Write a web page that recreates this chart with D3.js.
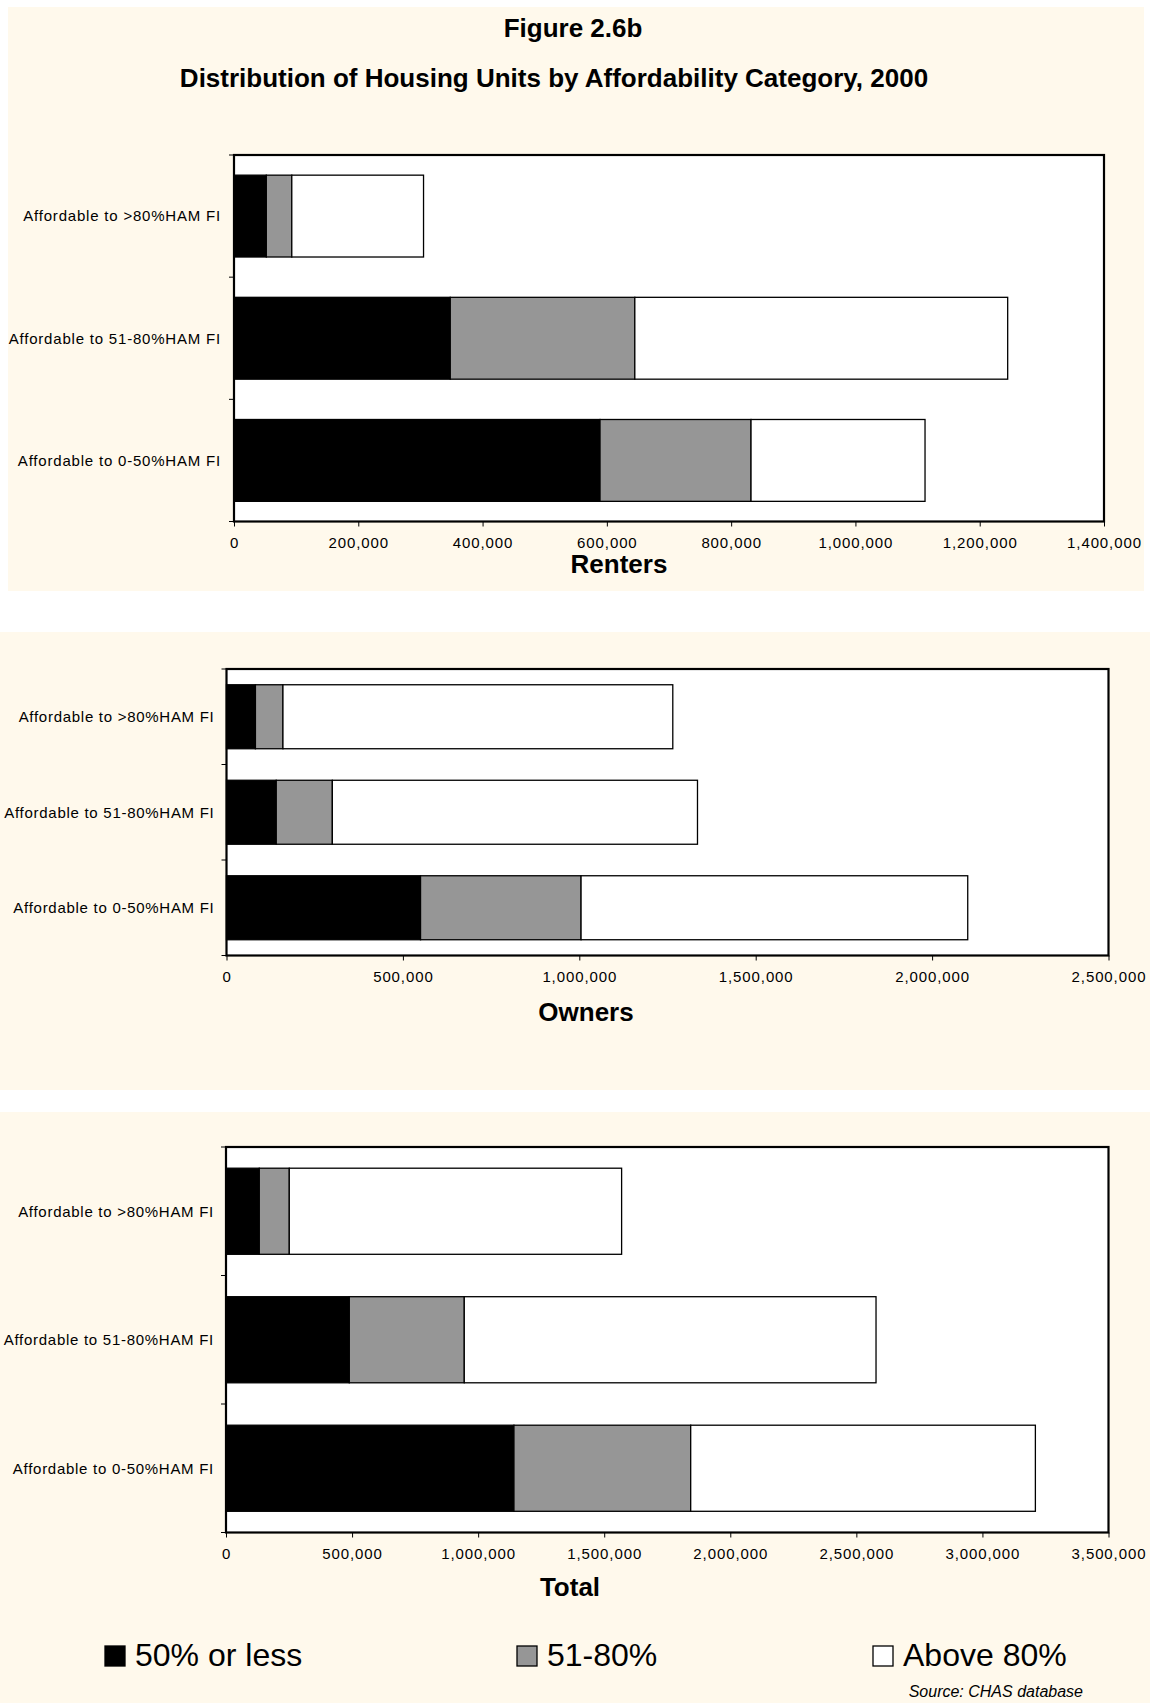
<!DOCTYPE html>
<html>
<head>
<meta charset="utf-8">
<script src="https://cdn.jsdelivr.net/npm/d3@7/dist/d3.min.js"></script>
<style>
  html, body { margin: 0; padding: 0; background: #ffffff; }
  svg { display: block; font-family: "Liberation Sans", Arial, Helvetica, sans-serif; }
</style>
</head>
<body>
<svg id="chart" width="1150" height="1703"></svg>
<script>
// Categories (top to bottom) and series
const categories = ["Affordable to >80%HAM FI", "Affordable to 51-80%HAM FI", "Affordable to 0-50%HAM FI"];
const seriesNames = ["50% or less", "51-80%", "Above 80%"];
const seriesColors = ["#000000", "#969696", "#ffffff"];

// Renters: units by household income group, per affordability category
const renters50 = [52000, 348000, 589000];
const renters5180 = [41000, 297000, 243000];
const rentersAbove80 = [212000, 600000, 280000];

// Owners
const owners50 = [82000, 141000, 550000];
const owners5180 = [78000, 159000, 455000];
const ownersAbove80 = [1105000, 1035000, 1096000];

// Total
const total50 = [132000, 489000, 1142000];
const total5180 = [119000, 456000, 701000];
const totalAbove80 = [1318000, 1633000, 1367000];

// Axis tick values
const rentersTicks = [0, 200000, 400000, 600000, 800000, 1000000, 1200000, 1400000];
const ownersTicks = [0, 500000, 1000000, 1500000, 2000000, 2500000];
const totalTicks = [0, 500000, 1000000, 1500000, 2000000, 2500000, 3000000, 3500000];

const svg = d3.select("#chart");
const cream = "#fff9ec";
const fmt = d3.format(",");

// Panel backgrounds
svg.append("rect").attr("x", 8).attr("y", 7).attr("width", 1136).attr("height", 584).attr("fill", cream);
svg.append("rect").attr("x", 0).attr("y", 632).attr("width", 1150).attr("height", 458).attr("fill", cream);
svg.append("rect").attr("x", 0).attr("y", 1112).attr("width", 1150).attr("height", 591).attr("fill", cream);

// Titles
svg.append("text").attr("x", 573).attr("y", 37).attr("text-anchor", "middle")
  .attr("font-size", 26).attr("font-weight", "bold").text("Figure 2.6b");
svg.append("text").attr("x", 554).attr("y", 87).attr("text-anchor", "middle")
  .attr("font-size", 26).attr("font-weight", "bold")
  .text("Distribution of Housing Units by Affordability Category, 2000");

function drawPanel(p) {
  const rows = categories.map((c, i) => ({
    category: c,
    [seriesNames[0]]: p.s1[i],
    [seriesNames[1]]: p.s2[i],
    [seriesNames[2]]: p.s3[i]
  }));
  const stacked = d3.stack().keys(seriesNames)(rows);

  const x = d3.scaleLinear().domain([0, p.ticks[p.ticks.length - 1]]).range([p.left, p.right]);
  const y = d3.scaleBand().domain(categories).range([p.top, p.bottom])
    .paddingInner(0.33).paddingOuter(0.165);

  const g = svg.append("g");

  // plot area
  g.append("rect").attr("x", p.left).attr("y", p.top)
    .attr("width", p.right - p.left).attr("height", p.bottom - p.top)
    .attr("fill", "#ffffff");

  // bars
  stacked.forEach((layer, si) => {
    g.append("g").selectAll("rect").data(layer).join("rect")
      .attr("x", d => x(d[0]))
      .attr("y", d => y(d.data.category))
      .attr("width", d => x(d[1]) - x(d[0]))
      .attr("height", y.bandwidth())
      .attr("fill", seriesColors[si])
      .attr("stroke", "#000")
      .attr("stroke-width", 1.3);
  });

  // plot frame
  g.append("rect").attr("x", p.left).attr("y", p.top)
    .attr("width", p.right - p.left).attr("height", p.bottom - p.top)
    .attr("fill", "none").attr("stroke", "#000").attr("stroke-width", 2.2);

  // category tick marks on the left axis
  const step = y.step();
  g.append("g").selectAll("line").data(d3.range(categories.length + 1)).join("line")
    .attr("x1", p.left - 5).attr("x2", p.left)
    .attr("y1", i => p.top + i * step).attr("y2", i => p.top + i * step)
    .attr("stroke", "#000").attr("stroke-width", 1);

  // category labels
  g.append("g").selectAll("text").data(categories).join("text")
    .attr("x", p.left - p.labelGap)
    .attr("y", d => y(d) + y.bandwidth() / 2)
    .attr("dy", "0.36em")
    .attr("text-anchor", "end")
    .attr("font-size", 15)
    .attr("letter-spacing", p.labelSpacing)
    .attr("fill", "#000")
    .text(d => d);

  // value axis
  const ax = g.append("g").attr("transform", `translate(0,${p.bottom})`)
    .call(d3.axisBottom(x).tickValues(p.ticks).tickSize(5).tickPadding(11).tickFormat(fmt));
  ax.select(".domain").remove();
  ax.selectAll(".tick line").attr("stroke", "#000");
  ax.selectAll(".tick text")
    .attr("font-family", "\"Liberation Sans\", Arial, sans-serif")
    .attr("font-size", 15).attr("letter-spacing", 0.9).attr("fill", "#000");

  // axis title
  g.append("text").attr("x", p.titleX).attr("y", p.titleY).attr("text-anchor", "middle")
    .attr("font-size", 26).attr("font-weight", "bold").text(p.title);
}

drawPanel({ s1: renters50, s2: renters5180, s3: rentersAbove80, ticks: rentersTicks,
  left: 234, right: 1104, top: 155, bottom: 521.5, labelGap: 13, labelSpacing: 0.8,
  title: "Renters", titleX: 619, titleY: 573 });
drawPanel({ s1: owners50, s2: owners5180, s3: ownersAbove80, ticks: ownersTicks,
  left: 226.5, right: 1108.5, top: 669, bottom: 955.5, labelGap: 12, labelSpacing: 0.72,
  title: "Owners", titleX: 586, titleY: 1021 });
drawPanel({ s1: total50, s2: total5180, s3: totalAbove80, ticks: totalTicks,
  left: 226, right: 1108.5, top: 1147, bottom: 1532.5, labelGap: 12, labelSpacing: 0.72,
  title: "Total", titleX: 570, titleY: 1596 });

// Legend
const legendX = [105, 517, 873];
const legend = svg.append("g").selectAll("g").data(seriesNames).join("g")
  .attr("transform", (d, i) => `translate(${legendX[i]},1646)`);
legend.append("rect").attr("x", 0).attr("y", 0).attr("width", 20).attr("height", 20)
  .attr("fill", (d, i) => seriesColors[i]).attr("stroke", "#000").attr("stroke-width", 1.3);
legend.append("text").attr("x", 30).attr("y", 20).attr("font-size", 32).attr("fill", "#000")
  .text(d => d);

// Source note
svg.append("text").attr("x", 1083).attr("y", 1697).attr("text-anchor", "end")
  .attr("font-size", 16).attr("font-style", "italic").text("Source: CHAS database");
</script>
</body>
</html>
